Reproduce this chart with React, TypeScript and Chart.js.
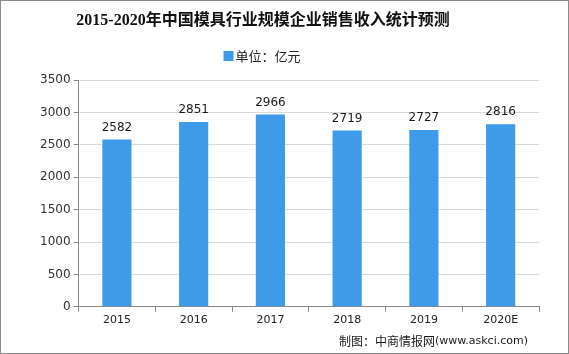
import React, { useEffect, useRef } from "react";
import { Chart, registerables } from "chart.js";

Chart.register(...registerables);

const categories = ["2015", "2016", "2017", "2018", "2019", "2020E"];
const salesRevenue = [2582, 2851, 2966, 2719, 2727, 2816];
const yTicks = [0, 500, 1000, 1500, 2000, 2500, 3000, 3500];

const titleText = "2015-2020年中国模具行业规模企业销售收入统计预测";
const legendText = "单位：亿元";
const footerText = "制图：中商情报网";
const footerUrl = "(www.askci.com)";

const BAR_COLOR = "#3d9be9";

const decorPlugin = {
  id: "decor",
  afterDatasetsDraw(chart: any) {
    const { ctx } = chart;
    const meta = chart.getDatasetMeta(0);
    ctx.save();
    ctx.fillStyle = "#1a1a1a";
    ctx.font = "12px 'DejaVu Sans', sans-serif";
    ctx.textAlign = "center";
    ctx.textBaseline = "bottom";
    meta.data.forEach((bar: any, i: number) => {
      ctx.fillText(String(salesRevenue[i]), bar.x, bar.y - 6);
    });
    ctx.restore();
  },
  afterDraw(chart: any) {
    const { ctx, width, height } = chart;
    ctx.save();
    // title
    ctx.fillStyle = "#111";
    ctx.textAlign = "center";
    ctx.textBaseline = "middle";
    ctx.font = "bold 16px 'Liberation Serif', 'Noto Sans CJK SC', serif";
    ctx.fillText(titleText, 263, 21);
    // legend
    ctx.font = "13px 'Noto Sans CJK SC', sans-serif";
    const lw = ctx.measureText(legendText).width;
    const boxW = 10;
    const total = boxW + 2 + lw;
    const lx = 262 - total / 2;
    ctx.fillStyle = BAR_COLOR;
    ctx.fillRect(lx, 51, boxW, 10);
    ctx.fillStyle = "#222";
    ctx.textAlign = "left";
    ctx.fillText(legendText, lx + boxW + 2, 56);
    // footer
    ctx.fillStyle = "#1a1a1a";
    ctx.font = "12px 'Noto Sans CJK SC', sans-serif";
    const w1 = ctx.measureText(footerText).width;
    ctx.font = "11px 'DejaVu Sans', sans-serif";
    const w2 = ctx.measureText(footerUrl).width;
    const right = 528;
    const startX = right - w1 - w2;
    ctx.font = "12px 'Noto Sans CJK SC', sans-serif";
    ctx.fillText(footerText, startX, 341);
    ctx.font = "11px 'DejaVu Sans', sans-serif";
    ctx.fillText(footerUrl, startX + w1, 341);
    // border
    ctx.strokeStyle = "#8c8c8c";
    ctx.lineWidth = 1;
    ctx.strokeRect(0.5, 0.5, width - 1, height - 1);
    ctx.restore();
  },
};

export default function App() {
  const canvasRef = useRef<HTMLCanvasElement | null>(null);

  useEffect(() => {
    document.body.style.margin = "0";
    const canvas = canvasRef.current;
    if (!canvas) return;
    const chart = new Chart(canvas, {
      type: "bar",
      data: {
        labels: categories,
        datasets: [
          {
            label: legendText,
            data: salesRevenue,
            backgroundColor: BAR_COLOR,
            borderWidth: 0,
            barPercentage: 0.76,
            categoryPercentage: 0.5,
          },
        ],
      },
      options: {
        responsive: false,
        animation: false,
        devicePixelRatio: 1,
        layout: { padding: { left: 37, right: 30, top: 80, bottom: 25 } },
        plugins: {
          title: { display: false },
          legend: { display: false },
          tooltip: { enabled: false },
        },
        scales: {
          x: {
            grid: {
              display: true,
              drawOnChartArea: false,
              drawTicks: true,
              tickLength: 5,
              offset: true,
              color: "#888",
            },
            border: { display: true, color: "#888" },
            ticks: {
              color: "#222",
              font: { size: 11, family: "'DejaVu Sans', sans-serif" },
              padding: 2,
            },
          },
          y: {
            min: 0,
            max: 3500,
            afterBuildTicks: (axis: any) => {
              axis.ticks = yTicks.map((v) => ({ value: v }));
            },
            grid: {
              color: "#d9d9d9",
              tickColor: "#888",
              tickLength: 5,
            },
            border: { display: true, color: "#888" },
            ticks: {
              color: "#333",
              font: { size: 12, family: "'DejaVu Sans', sans-serif" },
              padding: 3,
              callback: (v: any) => String(v),
            },
          },
        },
      },
      plugins: [decorPlugin],
    });
    return () => chart.destroy();
  }, []);

  return <canvas ref={canvasRef} width={569} height={354} style={{ display: "block" }} />;
}
